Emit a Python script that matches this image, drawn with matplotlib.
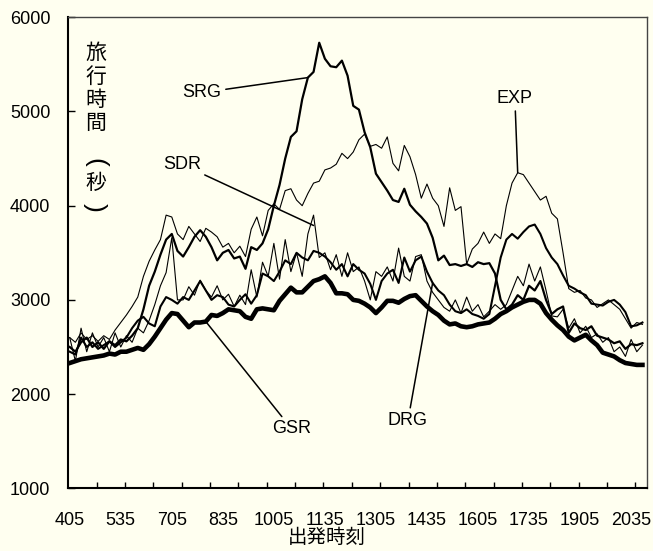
import numpy as np
import matplotlib
matplotlib.use("Agg")
import matplotlib.pyplot as plt

plt.rcParams['font.family'] = ['Liberation Sans', 'Noto Sans CJK JP', 'DejaVu Sans']

# 出発時刻 labels (every 90 min), data every 10 min from 4:05
tick_labels = ['405', '535', '705', '835', '1005', '1135',
               '1305', '1435', '1605', '1735', '1905', '2035']

SRG = [2500, 2450, 2550, 2600, 2500, 2550, 2480, 2560, 2520, 2580,
       2560, 2620, 2700, 2900, 3150, 3300, 3480, 3640, 3700, 3520,
       3460, 3560, 3670, 3740, 3670, 3560, 3420, 3500, 3530, 3440,
       3460, 3330, 3560, 3530, 3600, 3750, 4000, 4220, 4500, 4730,
       4790, 5130, 5360, 5420, 5730, 5560, 5480, 5470, 5540, 5380,
       5060, 5020, 4780, 4620, 4340, 4250, 4160, 4060, 4040, 4180,
       4010, 3940, 3880, 3810, 3660, 3420, 3470, 3370, 3380, 3360,
       3380, 3350, 3400, 3380, 3390, 3280, 3000, 2900, 2950, 3050,
       3000, 3150, 3100, 3200, 3000, 2850, 2900, 2930, 2650, 2750,
       2700, 2680, 2720, 2620, 2600, 2580, 2540, 2560, 2480, 2530,
       2520, 2540]

EXP = [2600, 2550, 2650, 2580, 2620, 2560, 2620, 2580, 2680, 2760,
       2840, 2930, 3030, 3250, 3410, 3530, 3640, 3900, 3880, 3700,
       3640, 3780, 3700, 3620, 3760, 3720, 3670, 3560, 3600, 3500,
       3570, 3460, 3750, 3880, 3680, 3950, 4020, 3960, 4160, 4180,
       4060, 4000, 4130, 4240, 4260, 4380, 4400, 4440, 4556, 4500,
       4570, 4700, 4760, 4630, 4650, 4610, 4730, 4450, 4370, 4640,
       4520, 4330, 4080, 4230, 4080, 4000, 3780, 4190, 3950, 3990,
       3380, 3540, 3600, 3720, 3600, 3700, 3650, 4000, 4240, 4350,
       4330, 4240, 4150, 4060, 4100, 3920, 3860, 3500, 3120, 3080,
       3100, 3020, 3000, 2920, 2960, 3000, 2950, 2900, 2800, 2700,
       2760, 2740]

SDR = [2600, 2350, 2700, 2450, 2650, 2500, 2600, 2450, 2650, 2500,
       2620, 2550, 2700, 2650, 2780, 2950, 3150, 3290, 3660, 3000,
       3000, 3140, 3050, 3210, 3100, 3030, 3150, 3000, 3060, 2930,
       3050, 2950, 3320, 3030, 3400, 3250, 3600, 3220, 3640, 3300,
       3500, 3250, 3700, 3900, 3450, 3500, 3320, 3480, 3250, 3500,
       3300, 3350, 3200, 3000, 3300, 3250, 3350, 3200, 3550, 3250,
       3200, 3460, 3480, 3200, 3080, 3000, 2920, 2880, 3000, 2860,
       3030, 2880, 2950, 2820, 2880, 2950, 2900, 2950, 3100, 3250,
       3150, 3380, 3200, 3350, 3100, 2830, 2820, 2900, 2700, 2800,
       2650, 2720, 2600, 2640, 2550, 2600, 2450, 2500, 2400, 2580,
       2450, 2520]

DRG = [2450, 2420, 2600, 2500, 2550, 2480, 2520, 2560, 2500, 2550,
       2600, 2700, 2780, 2820, 2750, 2720, 2930, 3030, 3000, 2960,
       3030, 3000, 3100, 3200, 3100, 3000, 3050, 3030, 2950, 2930,
       3000, 3060, 2960, 3050, 3280, 3250, 3200, 3300, 3420, 3380,
       3500, 3450, 3420, 3520, 3500, 3460, 3400, 3320, 3380, 3250,
       3380, 3320, 3280, 3170, 3000, 3200, 3280, 3320, 3180, 3450,
       3300, 3420, 3460, 3300, 3180, 3100, 3050, 2950, 2880, 2860,
       2900, 2850, 2830, 2800, 2850, 3150, 3450, 3640, 3700, 3650,
       3720, 3780, 3800, 3700, 3550, 3450, 3380, 3260, 3150, 3120,
       3080, 3050, 2960, 2950, 2940, 2980, 3000, 2950, 2870, 2720,
       2730, 2760]

GSR = [2330, 2350, 2370, 2380, 2390, 2400, 2410, 2430, 2420, 2450,
       2450, 2470, 2490, 2470, 2530, 2610, 2700, 2790, 2860, 2850,
       2780, 2710, 2760, 2760, 2770, 2840, 2830, 2860, 2900, 2890,
       2880, 2820, 2800, 2900, 2910, 2900, 2890, 2990, 3060, 3130,
       3080, 3080, 3140, 3200, 3220, 3250, 3180, 3070, 3070, 3060,
       3000, 2990, 2960, 2920, 2860, 2920, 2990, 2990, 2970, 3010,
       3040, 3050, 2990, 2930, 2880, 2840, 2780, 2740, 2750, 2720,
       2710, 2720, 2740, 2750, 2760, 2800, 2850, 2880, 2920, 2950,
       2980, 3000, 3000, 2960, 2860, 2790, 2730, 2680, 2610, 2570,
       2600, 2630, 2570, 2520, 2440, 2420, 2400, 2360, 2330, 2320,
       2310, 2310]

# category axis: 5-min slots, data every 2nd slot
n_slots = 204
x = np.arange(len(GSR)) * 2

bg = '#FFFFF0'
W, H = 653, 551
fig = plt.figure(figsize=(W / 100, H / 100), dpi=100, facecolor=bg)
ax = fig.add_axes([68.3 / W, 1 - 488.3 / H, 578.4 / W, 471 / H], facecolor=bg)

ax.plot(x, EXP, color='black', lw=0.8)
ax.plot(x, SDR, color='black', lw=0.8)
ax.plot(x, DRG, color='black', lw=1.5)
ax.plot(x, SRG, color='black', lw=1.6)
ax.plot(x, GSR, color='black', lw=3.3)

ax.set_xlim(-0.5, n_slots - 0.5)
ax.set_ylim(1000, 6000)
ax.set_yticks(range(1000, 6001, 1000))
ax.set_xticks(np.arange(len(tick_labels)) * 18)
ax.set_xticklabels(tick_labels)
ax.set_xticks(np.arange(9.5, n_slots - 1, 10), minor=True)
ax.tick_params(axis='x', which='major', length=0, pad=17, labelsize=13)
ax.tick_params(axis='x', which='minor', direction='in', length=4, width=1)
ax.tick_params(axis='y', direction='in', length=5, width=1, pad=13, labelsize=13)

for s in ['left', 'bottom']:
    ax.spines[s].set_linewidth(1.5)
for s in ['top', 'right']:
    ax.spines[s].set_linewidth(1.0)
    ax.spines[s].set_color('#444444')

fig.text(327 / W, 1 - 538 / H, '出発時刻', ha='center', va='center', fontsize=14)

# vertical y label inside the plot
for ch, yy in [('旅', 53), ('行', 77), ('時', 100), ('間', 123), ('秒', 183)]:
    fig.text(96 / W, 1 - yy / H, ch, ha='center', va='center', fontsize=15)
for ch, yy in [('(', 162), (')', 207)]:
    fig.text(95 / W, 1 - yy / H, ch, ha='center', va='center', fontsize=19,
             rotation=-90, family='Liberation Sans')

lab = dict(fontsize=13, ha='center', va='center')
arr = dict(arrowstyle='-', color='black', lw=1.1, shrinkA=1, shrinkB=0)
ax.annotate('SRG', xy=(x[42], SRG[42]), xytext=(46.7, 5200), arrowprops=arr, **lab)
ax.annotate('SDR', xy=(x[43], SDR[43] - 110), xytext=(39.5, 4440), arrowprops=arr, **lab)
ax.annotate('EXP', xy=(x[79], EXP[79]), xytext=(157, 5140), arrowprops=arr, **lab)
ax.annotate('GSR', xy=(x[24], GSR[24]), xytext=(78.3, 1630), arrowprops=arr, **lab)
ax.annotate('DRG', xy=(x[64], DRG[64]), xytext=(119.3, 1720), arrowprops=arr, **lab)

fig.savefig('out.png', dpi=100, facecolor=bg)
